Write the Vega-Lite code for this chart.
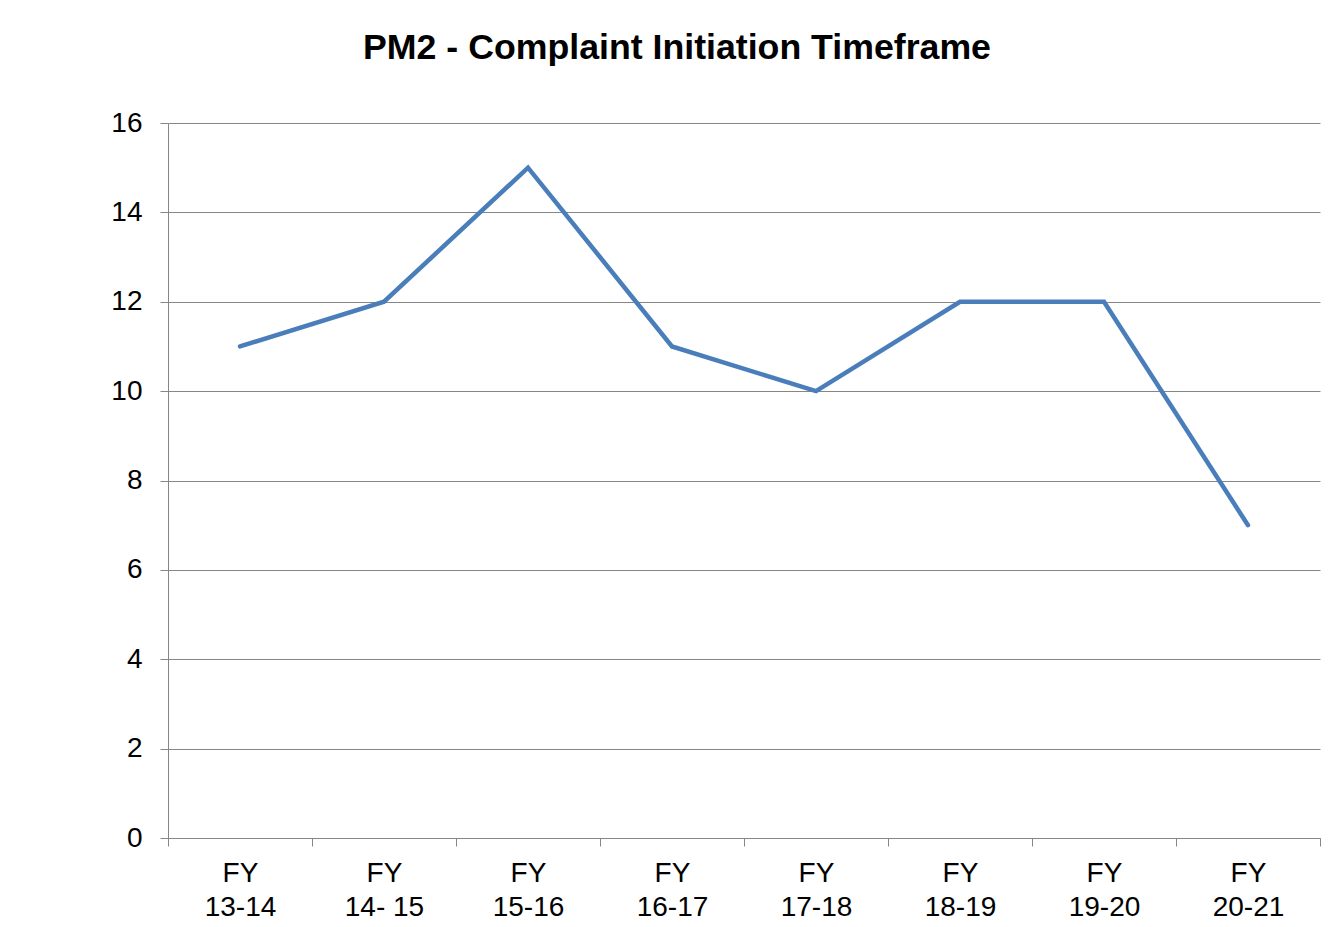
{
  "$schema": "https://vega.github.io/schema/vega-lite/v6.json",
  "width": 1152,
  "height": 715,
  "autosize": {"type": "none"},
  "padding": {"left": 168, "top": 123, "right": 23, "bottom": 89},
  "background": "white",
  "title": {
    "text": "PM2 - Complaint Initiation Timeframe",
    "font": "Liberation Sans",
    "fontSize": 35.7,
    "fontWeight": "bold",
    "color": "black",
    "anchor": "middle",
    "frame": "group",
    "dx": -67,
    "offset": 42
  },
  "data": {
    "values": [
      {"fy": "FY\n13-14", "value": 11},
      {"fy": "FY\n14- 15", "value": 12},
      {"fy": "FY\n15-16", "value": 15},
      {"fy": "FY\n16-17", "value": 11},
      {"fy": "FY\n17-18", "value": 10},
      {"fy": "FY\n18-19", "value": 12},
      {"fy": "FY\n19-20", "value": 12},
      {"fy": "FY\n20-21", "value": 7}
    ]
  },
  "mark": {"type": "line", "color": "#4a7ebb", "strokeWidth": 4.5, "strokeCap": "round", "strokeJoin": "miter"},
  "encoding": {
    "x": {
      "field": "fy",
      "type": "nominal",
      "sort": null,
      "scale": {"type": "band", "paddingInner": 0, "paddingOuter": 0},
      "axis": {
        "title": null,
        "labelAngle": 0,
        "tickBand": "extent",
        "grid": false,
        "ticks": true,
        "tickSize": 8,
        "tickColor": "#868686",
        "domainColor": "#868686",
        "labelFont": "Liberation Sans",
        "labelFontSize": 28,
        "labelColor": "black",
        "labelPadding": 13,
        "labelLineHeight": 34,
        "labelExpr": "split(datum.label, '\\n')"
      }
    },
    "y": {
      "field": "value",
      "type": "quantitative",
      "scale": {"domain": [0, 16], "nice": false},
      "axis": {
        "title": null,
        "values": [0, 2, 4, 6, 8, 10, 12, 14, 16],
        "grid": true,
        "gridColor": "#868686",
        "gridOpacity": 1,
        "tickSize": 8,
        "tickColor": "#868686",
        "domainColor": "#868686",
        "labelFont": "Liberation Sans",
        "labelFontSize": 28,
        "labelColor": "black",
        "labelPadding": 18
      }
    }
  },
  "config": {"view": {"stroke": null}}
}
